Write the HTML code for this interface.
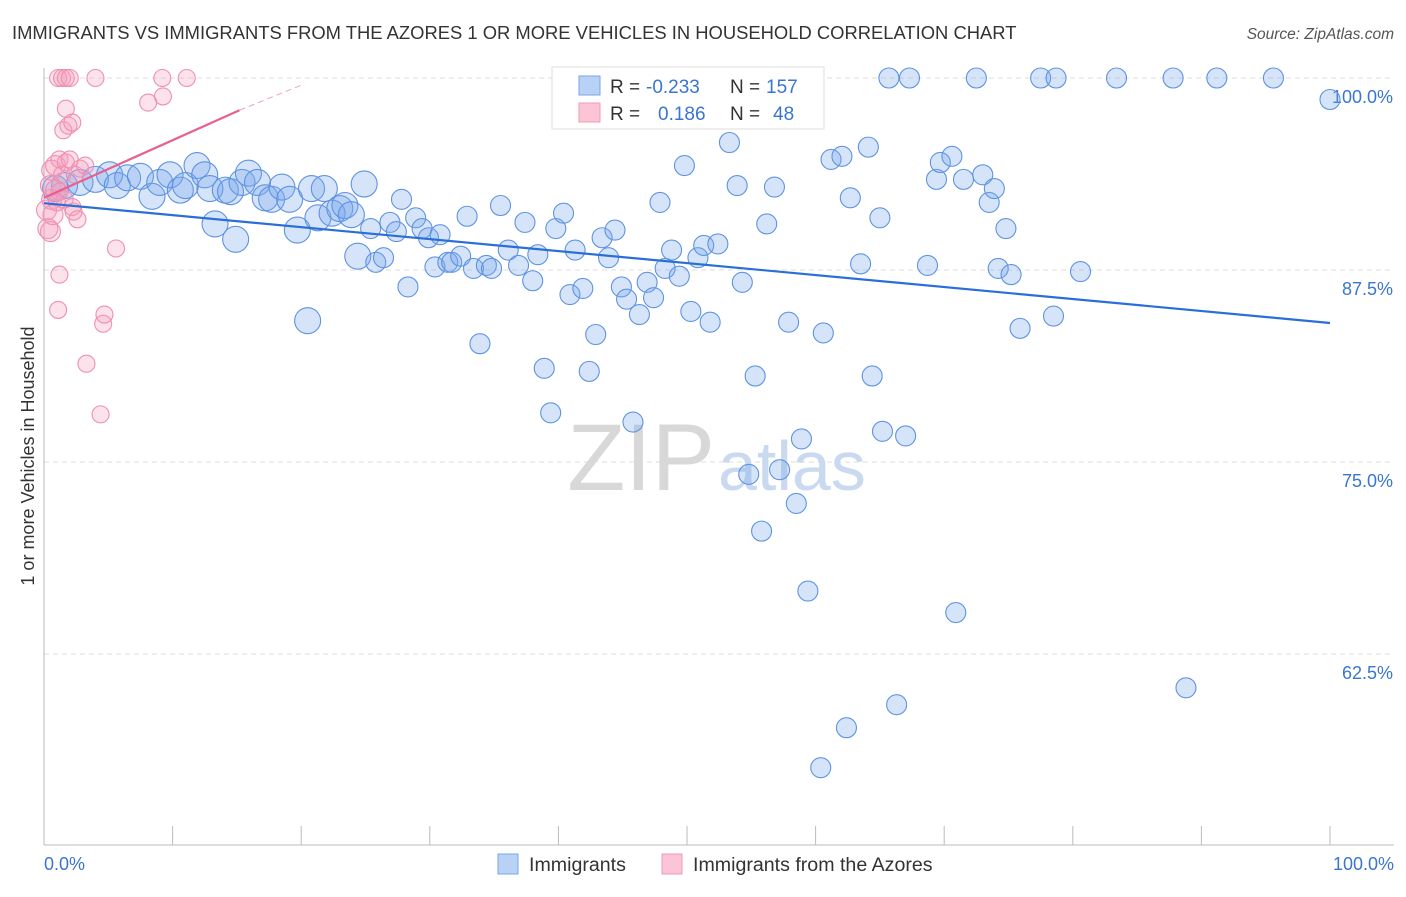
<!DOCTYPE html>
<html><head><meta charset="utf-8"><style>
body{margin:0;background:#fff;font-family:"Liberation Sans",sans-serif;}
svg text{font-family:"Liberation Sans",sans-serif;}
</style></head><body>
<svg width="1406" height="892" xmlns="http://www.w3.org/2000/svg">
<text x="12" y="39" font-size="18.4" fill="#333">IMMIGRANTS VS IMMIGRANTS FROM THE AZORES 1 OR MORE VEHICLES IN HOUSEHOLD CORRELATION CHART</text>
<text x="1394" y="39" font-size="15.5" fill="#555" font-style="italic" text-anchor="end">Source: ZipAtlas.com</text>
<g id="grid"></g>
<g id="axes"></g>
<text x="715" y="490" font-size="95" fill="#d8d8d8" text-anchor="end" font-family="Liberation Serif">ZIP</text>
<text x="718" y="490" font-size="70" fill="#c9daf0">atlas</text>
<g id="blue"></g>
<g id="pink"></g>
<g id="trends"></g>
<text transform="translate(34,456) rotate(-90)" font-size="18" fill="#333" text-anchor="middle">1 or more Vehicles in Household</text>
<text x="44" y="870" font-size="18" fill="#3a75d0">0.0%</text>
<text x="1394" y="870" font-size="18" fill="#3a75d0" text-anchor="end">100.0%</text>
<g>
<rect x="552" y="67" width="272" height="62" fill="#fff" stroke="#ddd"/>
<rect x="579" y="76" width="21" height="19" fill="#b8d2f5" stroke="#7aa6e6"/>
<rect x="579" y="103" width="21" height="19" fill="#fbc5d6" stroke="#f09ab6"/>
<text x="610" y="93" font-size="19" fill="#333">R = </text><text x="646" y="93" font-size="19" fill="#3a75d0">-0.233</text>
<text x="730" y="93" font-size="19" fill="#333">N = </text><text x="766" y="93" font-size="19" fill="#3a75d0">157</text>
<text x="610" y="120" font-size="19" fill="#333">R = </text><text x="658" y="120" font-size="19" fill="#3a75d0">0.186</text>
<text x="730" y="120" font-size="19" fill="#333">N = </text><text x="773" y="120" font-size="19" fill="#3a75d0">48</text>
</g>
<g>
<rect x="498" y="854" width="20" height="20" fill="#b8d2f5" stroke="#7aa6e6"/>
<text x="529" y="871" font-size="19.6" fill="#333">Immigrants</text>
<rect x="662" y="854" width="20" height="20" fill="#fbc5d6" stroke="#f09ab6"/>
<text x="693" y="871" font-size="19.6" fill="#333">Immigrants from the Azores</text>
</g>
</svg>
<script>
const yTicks=[100,87.5,75,62.5];
const yTickLabels=["100.0%","87.5%","75.0%","62.5%"];
const xTicks=[0,10,20,30,40,50,60,70,80,90,100];
const blueX=[65.7,67.3,72.5,77.5,78.7,83.4,87.8,91.2,95.6,100,0.9,1.6,2.8,4.0,5.1,5.7,6.5,7.5,8.4,9.0,9.8,10.6,11.0,11.9,12.5,12.9,13.3,14.1,14.5,14.9,15.4,15.9,16.6,17.2,17.7,18.5,19.1,19.7,20.5,20.8,21.3,21.8,22.4,23.0,23.4,23.9,24.9,25.4,24.4,25.8,26.4,26.9,27.4,27.8,28.3,28.9,29.4,29.9,30.8,30.4,31.4,31.7,32.4,32.9,33.4,33.9,34.4,34.8,35.5,36.1,36.9,37.4,38.0,38.4,38.9,39.4,39.8,40.4,40.9,41.3,41.9,42.4,42.9,43.4,43.9,44.4,44.9,45.3,45.8,46.3,46.9,47.4,47.9,48.3,48.8,49.4,49.8,50.3,50.85,51.3,51.8,52.4,53.3,53.9,54.3,54.8,55.3,55.8,56.2,56.8,57.2,57.9,58.5,58.9,59.4,60.4,60.6,61.2,62.05,62.4,62.7,63.5,64.1,64.4,65.0,65.2,66.3,67.0,68.7,69.4,69.7,70.6,70.9,71.5,73.0,73.5,73.9,74.2,74.8,75.2,75.9,78.5,80.6,88.8];
const blueY=[100,100,100,100,100,100,100,100,100,98.6,92.8,93.0,93.2,93.4,93.7,93.0,93.5,93.6,92.3,93.2,93.7,92.7,93.0,94.3,93.7,92.8,90.5,92.7,92.6,89.5,93.2,93.8,93.2,92.2,92.1,92.9,92.1,90.1,84.2,92.8,90.9,92.8,91.2,91.5,91.7,91.1,93.1,90.2,88.4,88.0,88.3,90.6,90.0,92.1,86.4,90.9,90.2,89.6,89.8,87.7,88.0,88.0,88.4,91.0,87.6,82.7,87.8,87.6,91.7,88.8,87.8,90.6,86.8,88.5,81.1,78.2,90.2,91.2,85.9,88.8,86.3,80.9,83.3,89.6,88.3,90.1,86.4,85.6,77.6,84.6,86.7,85.7,91.9,87.6,88.8,87.1,94.3,84.8,88.3,89.1,84.1,89.2,95.8,93.0,86.7,74.2,80.6,70.5,90.5,92.9,74.5,84.1,72.3,76.5,66.6,55.1,83.4,94.7,94.9,57.7,92.2,87.9,95.5,80.6,90.9,77.0,59.2,76.7,87.8,93.4,94.5,94.9,65.2,93.4,93.7,91.9,92.8,87.6,90.2,87.2,83.7,84.5,87.4,60.3];
const pinkX=[0.3,0.5,0.2,0.6,0.5,0.9,0.6,0.9,1.2,1.4,1.7,2.0,2.4,2.8,1.5,1.9,2.2,1.7,1.1,1.4,1.7,2.0,4.0,9.2,11.1,9.25,8.1,1.2,1.6,2.2,2.6,1.0,0.7,1.2,1.1,5.6,4.7,4.6,3.3,4.4,3.2,2.3];
const pinkY=[90.2,90.0,91.4,92.1,93.0,92.7,94.0,94.3,94.7,93.7,94.5,94.7,93.7,94.1,96.6,96.9,97.1,98.0,100,100,100,100,100,100,100,98.8,98.4,92.6,92.1,91.6,90.8,91.9,91.1,87.2,84.9,88.9,84.6,84.0,81.4,78.1,94.3,91.3];
const blueTrend=[[0,91.85],[100,84.05]];
const pinkTrend=[[0,92.2],[15.2,97.9]];
const pinkTrendExt=[[15.2,97.9],[20.2,99.6]];
const NS="http://www.w3.org/2000/svg";
const sx=v=>44+v*12.86, sy=v=>78+(100-v)*15.36;
function mk(t,a,p){const e=document.createElementNS(NS,t);for(const k in a)e.setAttribute(k,a[k]);p.appendChild(e);return e;}
const grid=document.getElementById('grid'),axes=document.getElementById('axes');
yTicks.forEach((v,i)=>{
 const l=mk('line',{x1:44,x2:1394,y1:sy(v),y2:sy(v),stroke:'#ddd','stroke-dasharray':'5,4'},grid);
 
 
 const t=mk('text',{x:1393,y:sy(v)+25,'font-size':18,fill:'#3a75d0','text-anchor':'end'},grid);
 t.textContent=yTickLabels[i];
 
 
});
mk('line',{x1:44,x2:44,y1:68,y2:845,stroke:'#bbb'},axes);
mk('line',{x1:44,x2:1394,y1:845,y2:845,stroke:'#bbb'},axes);
xTicks.forEach(v=>{const l=mk('line',{x1:sx(v),x2:sx(v),y1:826,y2:845,stroke:'#bbb'},axes);
 
 });
const bg=document.getElementById('blue');
blueX.forEach((x,i)=>{const c=mk('circle',{cx:sx(x),cy:sy(blueY[i]),r:x<25?13:10,fill:'rgba(120,165,235,0.3)',stroke:'#5e93e2','stroke-width':1.1},bg);
 
 });
const pg=document.getElementById('pink');
pinkX.forEach((x,i)=>{const c=mk('circle',{cx:sx(x),cy:sy(pinkY[i]),r:x<1?10:8.5,fill:'rgba(245,160,190,0.3)',stroke:'#ef8fb2','stroke-width':1.1},pg);
 
 });
const tg=document.getElementById('trends');
const b=mk('line',{x1:sx(blueTrend[0][0]),y1:sy(blueTrend[0][1]),x2:sx(blueTrend[1][0]),y2:sy(blueTrend[1][1]),stroke:'#2a6fd8','stroke-width':2.2},tg);


const p=mk('line',{x1:sx(pinkTrend[0][0]),y1:sy(pinkTrend[0][1]),x2:sx(pinkTrend[1][0]),y2:sy(pinkTrend[1][1]),stroke:'#e8608e','stroke-width':2.2},tg);


const pe=mk('line',{x1:sx(pinkTrendExt[0][0]),y1:sy(pinkTrendExt[0][1]),x2:sx(pinkTrendExt[1][0]),y2:sy(pinkTrendExt[1][1]),stroke:'#f0a0bc','stroke-width':1,'stroke-dasharray':'6,4'},tg);


</script>
</body></html>
